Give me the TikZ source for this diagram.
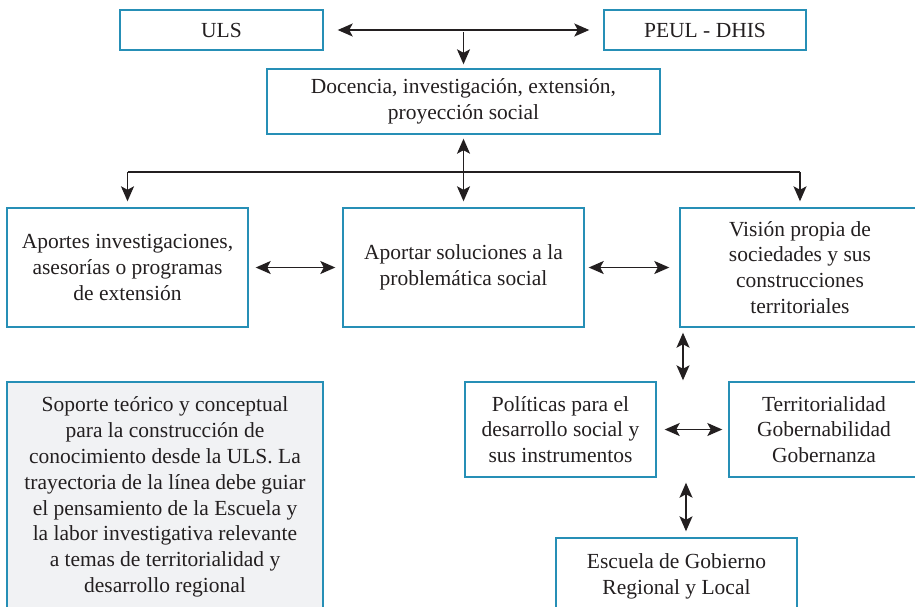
\documentclass[tikz,border=0pt]{standalone}
\usepackage{fontspec}
\setmainfont{Liberation Serif}
\usetikzlibrary{arrows.meta}
\definecolor{bordc}{RGB}{38,143,182}
\definecolor{txtc}{RGB}{35,31,32}
\definecolor{grayfill}{RGB}{241,242,244}
\tikzset{
  box/.style={draw=bordc, line width=1.4pt, inner sep=0pt, align=center, text=txtc,
    font=\fontsize{21.5}{25.8}\selectfont},
  tip/.tip={Stealth[length=15pt,width=13pt,inset=3.5pt]},
  conn/.style={draw=txtc, line width=1.5pt, -tip},
  dbl/.style={draw=txtc, line width=1.5pt, tip-tip},
  plain/.style={draw=txtc, line width=1.5pt}
}
\begin{document}
\begin{tikzpicture}[x=1pt,y=-1pt]
\useasboundingbox (0,0) rectangle (915,606);
\clip (0,0) rectangle (915,606);
% boxes
\node[box, minimum width=203, minimum height=40] (uls) at (221.5,30) {ULS};
\node[box, minimum width=202, minimum height=40] (peul) at (705,30) {PEUL - DHIS};
\node[box, minimum width=393, minimum height=65] (doc) at (463.5,101.5) {Docencia, investigación, extensión,\\proyección social};
\node[box, minimum width=241, minimum height=119] (apo) at (127.5,267.5) {Aportes investigaciones,\\asesorías o programas\\de extensión};
\node[box, minimum width=241, minimum height=119] (sol) at (463.5,267.5) {Aportar soluciones a la\\problemática social};
\node[box, minimum width=240, minimum height=119] (vis) at (800,267.5) {Visión propia de\\sociedades y sus\\construcciones\\territoriales};
\node[box, minimum width=191, minimum height=95] (pol) at (560.5,429.5) {Políticas para el\\desarrollo social y\\sus instrumentos};
\node[box, minimum width=190, minimum height=95] (ter) at (824,429.5) {Territorialidad\\Gobernabilidad\\Gobernanza};
\node[box, minimum width=241, minimum height=76] (esc) at (676.5,576) {Escuela de Gobierno\\Regional y Local};
\node[box, fill=grayfill, minimum width=316, minimum height=230] (sop) at (165,497) {Soporte teórico y conceptual\\para la construcción de\\conocimiento desde la ULS. La\\trayectoria de la línea debe guiar\\el pensamiento de la Escuela y\\la labor investigativa relevante\\a temas de territorialidad y\\desarrollo regional};
% connectors
\draw[dbl, shorten <=14pt, shorten >=14pt] (uls.east) -- (peul.west);
\coordinate (j1) at (463.5,32);
\draw[conn, shorten >=4pt] (j1) -- (doc.north);
\draw[dbl, shorten <=4pt, shorten >=6pt] (doc.south) -- (sol.north);
\coordinate (h) at (463.5,172);
\draw[plain] (h -| apo.north) -- (h -| vis.north);
\draw[conn, shorten >=6pt] (h -| apo.north) -- (apo.north);
\draw[conn, shorten >=6pt] (h -| vis.north) -- (vis.north);
\draw[dbl, shorten <=7pt, shorten >=7pt] (apo.east) -- (sol.west);
\draw[dbl, shorten <=4pt, shorten >=10pt] (sol.east) -- (vis.west);
\coordinate (v1) at (683,0);
\draw[dbl, shorten <=5pt, shorten >=1pt] (v1 |- vis.south) -- (v1 |- pol.north);
\draw[dbl, shorten <=8pt, shorten >=6pt] (pol.east) -- (ter.west);
\coordinate (v2) at (686,0);
\draw[dbl, shorten <=5pt, shorten >=6pt] (v2 |- pol.south) -- (v2 |- esc.north);
\end{tikzpicture}
\end{document}
